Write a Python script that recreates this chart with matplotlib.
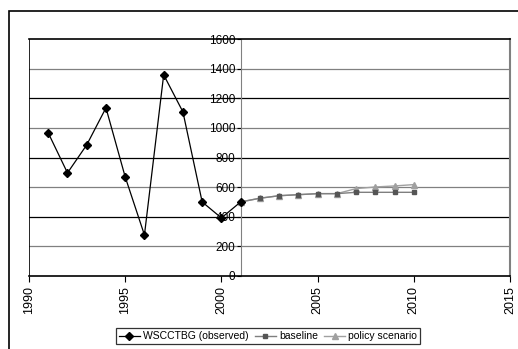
import matplotlib.pyplot as plt
from matplotlib.patches import Rectangle

plt.rcParams['font.family'] = ['Liberation Sans', 'DejaVu Sans']

obs_years = [1991, 1992, 1993, 1994, 1995, 1996, 1997, 1998, 1999, 2000, 2001]
obs_vals = [966, 696, 885, 1135, 669, 277, 1358, 1108, 500, 392, 500]

proj_years = [2001, 2002, 2003, 2004, 2005, 2006, 2007, 2008, 2009, 2010]
baseline = [500, 525, 542, 549, 556, 556, 565, 565, 565, 565]
policy = [500, 525, 542, 549, 556, 556, 590, 601, 608, 617]

fig = plt.figure(figsize=(5.18, 3.49), dpi=100)
ax = fig.add_axes([29 / 518, 1 - 276 / 349, 481 / 518, 237 / 349])

# outer chart frame (cropped on right and bottom)
fig.patches.append(Rectangle((9 / 518, -0.1), 1.2, 1.1 - 11 / 349,
                             transform=fig.transFigure, fill=False,
                             edgecolor='black', linewidth=1.2))

for v in range(200, 1600, 200):
    ax.axhline(v, color='black' if v % 400 == 0 else '#808080', linewidth=0.9, zorder=1)
ax.axvline(1990, color='black', linewidth=1.2, zorder=1)

ax.plot(proj_years, policy, color='#a0a0a0', marker='^', markersize=4,
        linewidth=1, label='policy scenario', zorder=2)
ax.plot(proj_years, baseline, color='#7f7f7f', marker='s', markersize=3.5,
        markerfacecolor='#555555', markeredgecolor='#555555',
        linewidth=1, label='baseline', zorder=3)
ax.plot(obs_years, obs_vals, color='black', marker='D', markersize=4,
        linewidth=0.9, label='WSCCTBG (observed)', zorder=4)

ax.set_xlim(1990, 2015)
ax.set_ylim(0, 1600)
ax.set_xticks(range(1990, 2016, 5))
ax.set_yticks(range(0, 1601, 200))
ax.tick_params(axis='x', labelrotation=90, labelsize=9, length=4, direction='out')
ax.tick_params(axis='y', labelsize=8.5, length=3, direction='out', pad=1)

ax.spines['left'].set_position(('data', 2001))
ax.spines['left'].set_color('#808080')
ax.spines['right'].set_color('#808080')
ax.spines['right'].set_linewidth(1.5)
ax.spines['top'].set_linewidth(1.2)
ax.spines['bottom'].set_linewidth(1.2)

handles, labels = ax.get_legend_handles_labels()
leg = fig.legend(handles[::-1], labels[::-1], loc='upper center', ncol=3,
                 bbox_to_anchor=(268 / 518, 1 - 323 / 349), fontsize=7.5,
                 frameon=True, fancybox=False, edgecolor='black',
                 handlelength=2, handletextpad=0.3, columnspacing=0.6,
                 borderpad=0.3)
leg.get_frame().set_linewidth(0.9)

fig.savefig('out.png', dpi=100)
